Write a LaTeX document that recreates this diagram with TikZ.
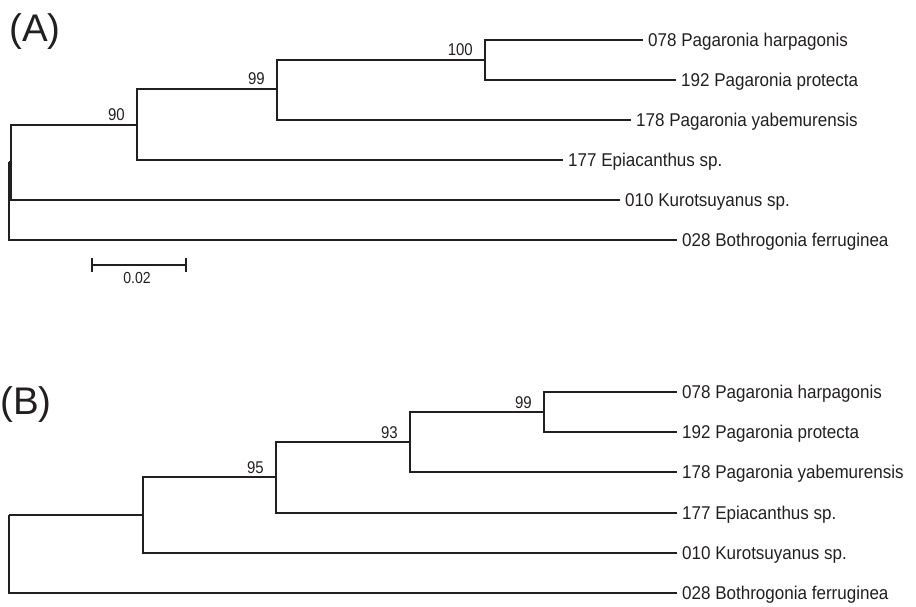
\documentclass[tikz,border=0pt]{standalone}
\usepackage{fontspec}
\setmainfont{Liberation Sans}
\newfontfamily\condfont[FakeStretch=0.92]{Liberation Sans}
\newfontfamily\narrowfont[FakeStretch=0.88]{Liberation Sans}
\definecolor{ink}{RGB}{35,31,32}
\begin{document}
\begin{tikzpicture}[x=1pt,y=-1pt,
  branch/.style={draw=ink,line width=1.3pt},
  tip/.style={anchor=west,inner xsep=5pt,inner ysep=0pt,text height=13.2pt,text depth=0pt,
    font=\condfont\fontsize{18.5}{22}\selectfont,text=ink},
  supp/.style={anchor=base east,inner sep=0pt,font=\narrowfont\fontsize{17}{20}\selectfont,text=ink},
  panel/.style={anchor=base west,inner sep=0pt,font=\fontsize{38.5}{44}\selectfont,text=ink}]
\useasboundingbox (0,0) rectangle (916,607);
% ---------- Panel A ----------
\node[panel] (labA) at (9,42) {(A)};
\coordinate (rA) at (9,162);
\coordinate (nA) at (11,162);
\coordinate (a90) at (137,125);
\coordinate (a99) at (277,89);
\coordinate (a100) at (485,60);
\node[tip] (a078) at (643,40) {078 Pagaronia harpagonis};
\node[tip] (a192) at (676,80) {192 Pagaronia protecta};
\node[tip] (a178) at (631,120) {178 Pagaronia yabemurensis};
\node[tip] (a177) at (563,160) {177 Epiacanthus sp.};
\node[tip] (a010) at (620,200) {010 Kurotsuyanus sp.};
\node[tip] (a028) at (677,240) {028 Bothrogonia ferruginea};
\draw[branch] (rA) |- (a028.west);
\draw[branch] (rA) -- (nA);
\draw[branch] (nA) |- (a90);
\draw[branch] (nA) |- (a010.west);
\draw[branch] (a90) |- (a99);
\draw[branch] (a90) |- (a177.west);
\draw[branch] (a99) |- (a100);
\draw[branch] (a99) |- (a178.west);
\draw[branch] (a100) |- (a078.west);
\draw[branch] (a100) |- (a192.west);
\node[supp] (s90) at ([xshift=-12pt,yshift=4pt]a90) {90};
\node[supp] (s99a) at ([xshift=-12pt,yshift=4pt]a99) {99};
\node[supp] (s100) at ([xshift=-12pt,yshift=4pt]a100) {100};
% scale bar
\coordinate (sbL) at (92,265);
\coordinate (sbR) at (186,265);
\draw[branch] (sbL) -- (sbR);
\draw[branch] ([yshift=-7pt]sbL) -- ([yshift=7pt]sbL);
\draw[branch] ([yshift=-7pt]sbR) -- ([yshift=7pt]sbR);
\node[anchor=base,inner sep=0pt,font=\narrowfont\fontsize{16}{19}\selectfont,text=ink] (sbt) at (137,283) {0.02};
% ---------- Panel B ----------
\node[panel] (labB) at (0,414) {(B)};
\coordinate (rB) at (9,515);
\coordinate (bA) at (143,515);
\coordinate (b95) at (276,477);
\coordinate (b93) at (410,442);
\coordinate (b99) at (544,412);
\node[tip] (b078) at (677,392) {078 Pagaronia harpagonis};
\node[tip] (b192) at (677,432) {192 Pagaronia protecta};
\node[tip] (b178) at (677,472) {178 Pagaronia yabemurensis};
\node[tip] (b177) at (677,513) {177 Epiacanthus sp.};
\node[tip] (b010) at (677,553) {010 Kurotsuyanus sp.};
\node[tip] (b028) at (677,593) {028 Bothrogonia ferruginea};
\draw[branch] (rB) -- (bA);
\draw[branch] (rB) |- (b028.west);
\draw[branch] (bA) |- (b95);
\draw[branch] (bA) |- (b010.west);
\draw[branch] (b95) |- (b93);
\draw[branch] (b95) |- (b177.west);
\draw[branch] (b93) |- (b99);
\draw[branch] (b93) |- (b178.west);
\draw[branch] (b99) |- (b078.west);
\draw[branch] (b99) |- (b192.west);
\node[supp] (s95) at ([xshift=-12pt,yshift=4pt]b95) {95};
\node[supp] (s93) at ([xshift=-12pt,yshift=4pt]b93) {93};
\node[supp] (s99b) at ([xshift=-12pt,yshift=4pt]b99) {99};
\end{tikzpicture}
\end{document}
